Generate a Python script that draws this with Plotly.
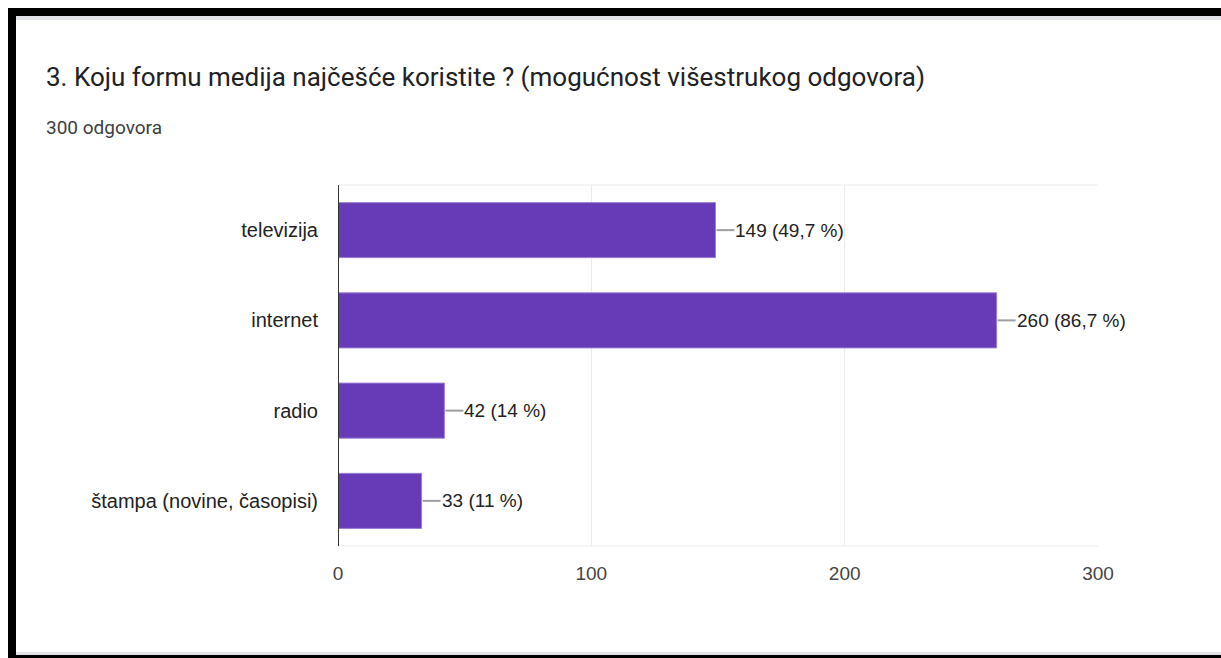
import plotly.graph_objects as go

# Survey answers (multiple choice allowed)
categories = ["televizija", "internet", "radio", "štampa (novine, časopisi)"]
counts = [149, 260, 42, 33]
total_responses = 300
x_ticks = [0, 100, 200, 300]

W, H = 1221, 658
ML, MR, MT, MB = 338, 123, 185, 112
PW, PH = W - ML - MR, H - MT - MB


def px(x):
    return (x - ML) / PW


def py(y):
    return 1 - (y - MT) / PH


def pct_label(v):
    p = round(v / total_responses * 100, 1)
    s = f"{p:.1f}".replace(".", ",")
    if s.endswith(",0"):
        s = s[:-2]
    return f"{v} ({s} %)"


fig = go.Figure()
fig.add_trace(go.Bar(
    x=counts, y=categories, orientation="h",
    marker=dict(color="#673ab7", line=dict(color="#9b7fd4", width=1)),
    hoverinfo="skip",
))

shapes = []
annotations = []
for cat, v in zip(categories, counts):
    # short leader line from bar end to its value label
    shapes.append(dict(type="line", xref="x", yref="y", xsizemode="pixel",
                       xanchor=v, x0=1, x1=19, y0=cat, y1=cat,
                       line=dict(color="#9e9e9e", width=2)))
    annotations.append(dict(x=v, y=cat, xref="x", yref="y", xanchor="left",
                            xshift=18, showarrow=False, text=pct_label(v),
                            font=dict(family="Arial, Liberation Sans", size=19, color="#222222")))

# heading texts
annotations.append(dict(x=px(44), y=py(77), xref="paper", yref="paper", xanchor="left",
                        yanchor="middle", showarrow=False,
                        text="3. Koju formu medija najčešće koristite ? (mogućnost višestrukog odgovora)",
                        font=dict(family="Roboto", size=26, color="#202124")))
annotations.append(dict(x=px(44), y=py(128), xref="paper", yref="paper", xanchor="left",
                        yanchor="middle", showarrow=False, text="300 odgovora",
                        font=dict(family="Roboto", size=19, color="#3c4043")))

# page frame
frame = [
    (8, 8, W, 16, "#000000"),
    (8, 8, 16, H, "#000000"),
    (16, 16, W, 20, "#e1e2ea"),
    (16, 652, W, 655, "#e1e2ea"),
    (8, 655, W, H, "#000000"),
]
for x0, y0, x1, y1, c in frame:
    shapes.append(dict(type="rect", xref="paper", yref="paper", layer="above",
                       x0=px(x0), x1=px(x1), y0=py(y1), y1=py(y0),
                       line=dict(width=0), fillcolor=c))

# horizontal border gridlines at top and bottom of plot area
for yy in (0, 1):
    shapes.append(dict(type="line", xref="paper", yref="paper", layer="below",
                       x0=0, x1=1, y0=yy, y1=yy, line=dict(color="#ebebeb", width=1)))

fig.update_layout(
    width=W, height=H,
    margin=dict(l=ML, r=MR, t=MT, b=MB),
    paper_bgcolor="white", plot_bgcolor="white",
    showlegend=False, bargap=0.39,
    shapes=shapes, annotations=annotations,
    xaxis=dict(range=[0, 300], tickvals=x_ticks, showgrid=True, gridcolor="#ebebeb",
               gridwidth=1, zeroline=False, showline=False, ticks="",
               tickfont=dict(family="Arial, Liberation Sans", size=19, color="#444444"),
               ticklabelstandoff=14, fixedrange=True),
    yaxis=dict(categoryorder="array", categoryarray=categories, autorange="reversed",
               showgrid=False, zeroline=False, showline=False, ticks="",
               tickfont=dict(family="Arial, Liberation Sans", size=20, color="#222222"),
               ticklabelstandoff=19, fixedrange=True),
)
# dark baseline at zero
fig.add_shape(type="line", xref="x", yref="paper", x0=0, x1=0, y0=0, y1=1,
              line=dict(color="#333333", width=2), layer="above")

fig.write_html("out.html", config={"displayModeBar": False})
